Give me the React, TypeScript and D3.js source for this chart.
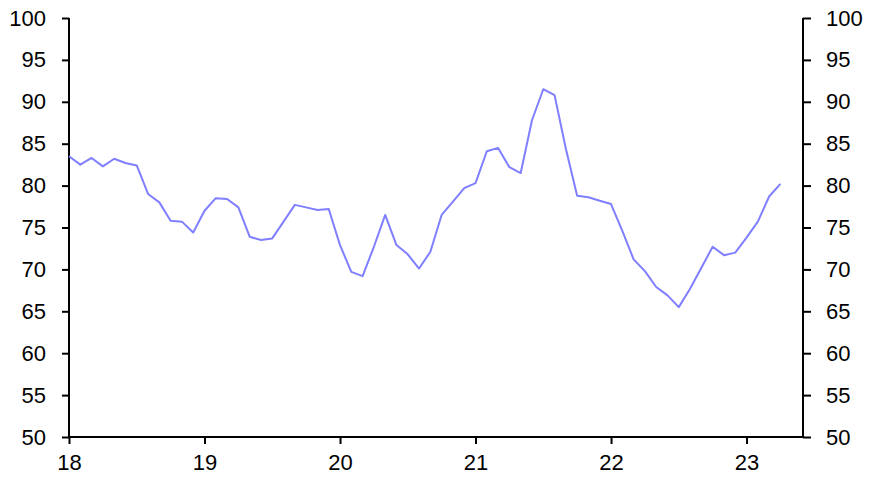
import React, { useEffect, useRef } from "react";
import * as d3 from "d3";

// monthly values, Jan 2018 .. Apr 2023
const values2018 = [83.5, 82.5, 83.3, 82.3, 83.2, 82.7, 82.4, 79.0, 78.0, 75.8, 75.7, 74.4];
const values2019 = [77.0, 78.5, 78.4, 77.4, 73.9, 73.5, 73.7, 75.7, 77.7, 77.4, 77.1, 77.2];
const values2020 = [72.9, 69.7, 69.2, 72.7, 76.5, 72.9, 71.8, 70.1, 72.1, 76.5, 78.1, 79.7];
const values2021 = [80.3, 84.1, 84.5, 82.2, 81.5, 87.8, 91.5, 90.8, 84.4, 78.8, 78.6, 78.2];
const values2022 = [77.8, 74.6, 71.2, 69.8, 67.9, 66.9, 65.5, 67.7, 70.2, 72.7, 71.7, 72.0];
const values2023 = [73.8, 75.7, 78.7, 80.2];

const seriesValues = [
    ...values2018, ...values2019, ...values2020,
    ...values2021, ...values2022, ...values2023,
];

const xTickLabels = [18, 19, 20, 21, 22, 23];
const yTickLabels = [50, 55, 60, 65, 70, 75, 80, 85, 90, 95, 100];

const Chart: React.FC = () => {
    const svgRef = useRef<SVGSVGElement | null>(null);

    useEffect(() => {
        const svg = d3.select(svgRef.current);
        svg.selectAll("*").remove();

        const left = 69;
        const right = 803;
        const top = 18;
        const bottom = 437;
        const font = "'Liberation Sans', Arial, sans-serif";

        // x in years (18 = Jan 2018), last point ~ Apr 2023, axis runs to mid 2023
        const x = d3.scaleLinear().domain([18, 18 + 65 / 12]).range([left, right]);
        const y = d3.scaleLinear().domain([50, 100]).range([bottom, top]);

        const data = seriesValues.map((v, i) => ({ t: 18 + i / 12, v }));

        // left axis
        const gl = svg.append("g").attr("transform", `translate(${left},0)`);
        gl.call(d3.axisLeft(y).tickValues(yTickLabels).tickSize(7).tickPadding(16).tickFormat(d3.format("d")));

        // right axis
        const gr = svg.append("g").attr("transform", `translate(${right},0)`);
        gr.call(d3.axisRight(y).tickValues(yTickLabels).tickSize(8).tickPadding(15).tickFormat(d3.format("d")));

        // bottom axis
        const gb = svg.append("g").attr("transform", `translate(0,${bottom})`);
        gb.call(d3.axisBottom(x).tickValues(xTickLabels).tickSize(7).tickPadding(10).tickFormat(d3.format("d")));

        [gl, gr, gb].forEach((g) => {
            g.select(".domain").attr("stroke", "#000").attr("stroke-width", 2);
            g.selectAll(".tick line").attr("stroke", "#000").attr("stroke-width", 2);
            g.selectAll(".tick text")
                .attr("fill", "#000")
                .attr("font-family", font)
                .attr("font-size", "22px");
        });
        // plain domain lines, no end stubs
        gl.select(".domain").attr("d", `M0,${top}V${bottom}`);
        gr.select(".domain").attr("d", `M0,${top}V${bottom}`);
        gb.select(".domain").attr("d", `M${left},0H${right}`);

        const line = d3
            .line<{ t: number; v: number }>()
            .x((d) => x(d.t))
            .y((d) => y(d.v));

        svg.append("path")
            .datum(data)
            .attr("d", line)
            .attr("fill", "none")
            .attr("stroke", "#7f7fff")
            .attr("stroke-width", 2)
            .attr("stroke-linejoin", "round");
    }, []);

    return (
        <svg
            ref={svgRef}
            width={871}
            height={480}
            style={{ position: "absolute", left: 0, top: 0, background: "#fff" }}
        />
    );
};

export default function App() {
    return <Chart />;
}
